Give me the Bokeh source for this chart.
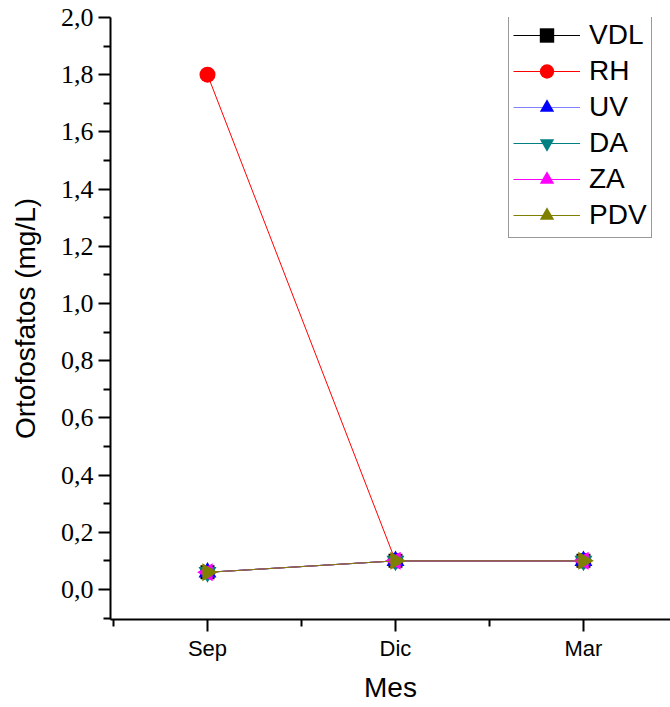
import math
from bokeh.plotting import figure
from bokeh.models import FixedTicker, Range1d, Legend, LegendItem
from bokeh.embed import file_html
from bokeh.resources import INLINE

# ---- data ----
months = ["Sep", "Dic", "Mar"]
x_idx = [0, 1, 2]
vdl = [0.06, 0.10, 0.10]
rh = [1.80, 0.10, 0.10]
uv = [0.06, 0.10, 0.10]
da = [0.06, 0.10, 0.10]
za = [0.06, 0.10, 0.10]
pdv = [0.06, 0.10, 0.10]
y_ticks = [0.0, 0.2, 0.4, 0.6, 0.8, 1.0, 1.2, 1.4, 1.6, 1.8, 2.0]
y_tick_labels = ["0,0", "0,2", "0,4", "0,6", "0,8", "1,0", "1,2", "1,4", "1,6", "1,8", "2,0"]
y_minor = [-0.1, 0.1, 0.3, 0.5, 0.7, 0.9, 1.1, 1.3, 1.5, 1.7, 1.9]
x_minor = [-0.5, 0.5, 1.5]

p = figure(width=670, height=707, output_backend="svg", toolbar_location=None,
           x_range=Range1d(-0.516, 2.463), y_range=Range1d(-0.105, 2.0),
           min_border_left=110, min_border_right=0, min_border_top=17, min_border_bottom=88)
p.outline_line_color = None
p.grid.visible = False
p.background_fill_color = "white"
p.border_fill_color = "white"

# axes
xa = p.xaxis[0]
xa.ticker = FixedTicker(ticks=x_idx, minor_ticks=x_minor)
xa.major_label_overrides = {i: m for i, m in zip(x_idx, months)}
ya = p.yaxis[0]
ya.ticker = FixedTicker(ticks=y_ticks, minor_ticks=y_minor)
ya.major_label_overrides = {t: l for t, l in zip(y_ticks, y_tick_labels)}

for ax in (xa, ya):
    ax.axis_line_width = 2
    ax.axis_line_color = "black"
    ax.major_tick_line_width = 2
    ax.minor_tick_line_width = 2
    ax.major_tick_in = 0
    ax.minor_tick_in = 0
    ax.major_tick_out = 12
    ax.minor_tick_out = 7
    ax.axis_label_text_font = "Liberation Sans"
    ax.axis_label_text_font_style = "normal"
    ax.axis_label_text_font_size = "28px"
    ax.axis_label_text_color = "black"
    ax.major_label_text_color = "black"

xa.axis_label = "Mes"
xa.major_label_text_font = "Liberation Sans"
xa.major_label_text_font_size = "22px"
xa.major_label_standoff = 4
xa.axis_label_standoff = 8

ya.axis_label = "Ortofosfatos (mg/L)"
ya.major_label_text_font = "Liberation Serif"
ya.major_label_text_font_size = "26px"
ya.major_label_standoff = 5
ya.axis_label_standoff = 17

series = [
    ("VDL", vdl, "black", "black", "square", 14, 0.0),
    ("RH", rh, "red", "red", "circle", 16, 0.0),
    ("UV", uv, "#8080FF", "#0000FF", "triangle", 18, 0.0),
    ("DA", da, "#008080", "#008080", "inverted_triangle", 18, 0.0),
    ("ZA", za, "#FF00FF", "#FF00FF", "triangle", 18, math.pi / 2),
    ("PDV", pdv, "#808000", "#808000", "triangle", 18, -math.pi / 2),
]

items = []
for name, ys, lc, mc, mk, sz, ang in series:
    ln = p.line(x_idx, ys, line_color=lc, line_width=1)
    sc = p.scatter(x_idx, ys, marker=mk, size=sz, angle=ang,
                   fill_color=mc, line_color=mc, line_width=0)
    items.append(LegendItem(label=name, renderers=[ln, sc]))

legend = Legend(items=items, location=(398, 381))
legend.label_text_font = "Liberation Sans"
legend.label_text_font_size = "28px"
legend.label_text_color = "black"
legend.glyph_width = 67
legend.glyph_height = 36
legend.label_height = 36
legend.label_standoff = 9
legend.spacing = 0
legend.padding = 4
legend.margin = 0
legend.border_line_color = "#333333"
legend.border_line_width = 1
legend.background_fill_color = "white"
legend.background_fill_alpha = 1.0
p.add_layout(legend)

open("out.html", "w").write(file_html(p, INLINE))
